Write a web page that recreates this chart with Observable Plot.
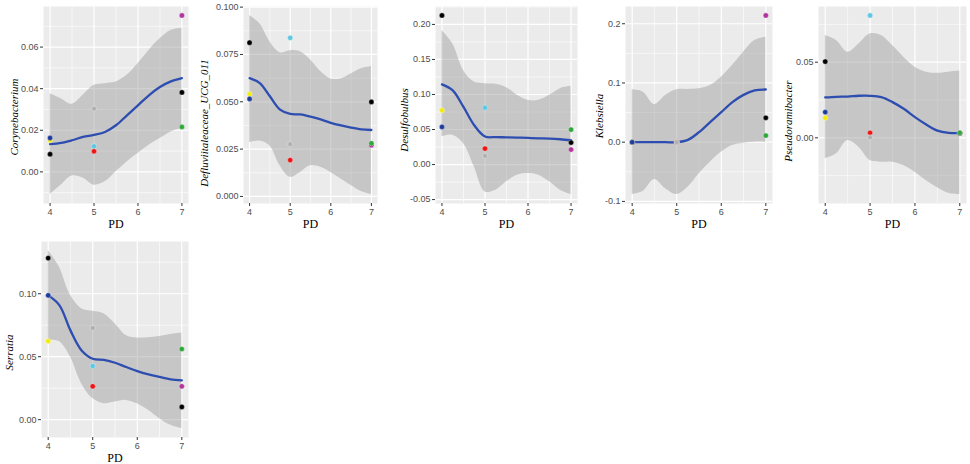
<!DOCTYPE html>
<html><head><meta charset="utf-8">
<script src="https://cdn.jsdelivr.net/npm/d3@7"></script>
<script src="https://cdn.jsdelivr.net/npm/@observablehq/plot@0.6"></script>
<style>
body{margin:0;background:#fff;}
#wrap{position:relative;width:970px;height:464px;overflow:hidden;}
.panel{position:absolute;}
</style></head><body><div id="wrap"></div>
<script>
// Samples (draw order) and their PD stage
const pd = [4, 4, 4, 5, 5, 5, 7, 7, 7];
const sampleColors = ["#000000", "#F3EC10", "#1E3C9C", "#5EC7E2", "#EE1414", "#B2B2B2", "#B2359E", "#000000", "#2FA83A"];

// Smooth (loess) evaluation grid
const smoothX = [4, 4.25, 4.5, 4.75, 5, 5.25, 5.5, 5.75, 6, 6.25, 6.5, 6.75, 7];

const xTicks = [4, 5, 6, 7];
const xTickLabels = ["4", "5", "6", "7"];
const xMinor = [4.5, 5.5, 6.5];

// Corynebacterium
const coryPts = [0.0085, 0.0152, 0.0163, 0.0123, 0.0099, 0.0304, 0.0752, 0.0382, 0.0216];
const coryFit = [0.0133, 0.0139, 0.0152, 0.0168, 0.0178, 0.0192, 0.0224, 0.0272, 0.0320, 0.0368, 0.0408, 0.0435, 0.0451];
const coryLo = [-0.0109, -0.0064, -0.0020, -0.0030, -0.0064, -0.0048, 0.0000, 0.0048, 0.0088, 0.0128, 0.0160, 0.0192, 0.0208];
const coryHi = [0.0376, 0.0352, 0.0325, 0.0368, 0.0416, 0.0424, 0.0432, 0.0464, 0.0520, 0.0584, 0.0640, 0.0680, 0.0691];
const coryTicks = [0, 0.02, 0.04, 0.06];
const coryTickLabels = ["0.00", "0.02", "0.04", "0.06"];
const coryMinor = [-0.01, 0.01, 0.03, 0.05, 0.07];

// Defluviitaleaceae_UCG_011
const deflPts = [0.0812, 0.0541, 0.0515, 0.0838, 0.0192, 0.0276, 0.0271, 0.0499, 0.0281];
const deflFit = [0.0625, 0.0599, 0.0529, 0.0459, 0.0436, 0.0433, 0.0421, 0.0407, 0.0389, 0.0375, 0.0363, 0.0354, 0.0351];
const deflLo = [0.0284, 0.0293, 0.0267, 0.0162, 0.0101, 0.0127, 0.0162, 0.0154, 0.0127, 0.0092, 0.0058, 0.0026, 0.0010];
const deflHi = [0.0956, 0.0913, 0.0817, 0.0759, 0.0770, 0.0764, 0.0721, 0.0660, 0.0621, 0.0621, 0.0647, 0.0674, 0.0686];
const deflTicks = [0, 0.025, 0.05, 0.075, 0.1];
const deflTickLabels = ["0.000", "0.025", "0.050", "0.075", "0.100"];
const deflMinor = [0.0125, 0.0375, 0.0625, 0.0875];

// Desulfobulbus
const desuPts = [0.2128, 0.0774, 0.0537, 0.0812, 0.0228, 0.0124, 0.0214, 0.0314, 0.0499];
const desuFit = [0.1145, 0.1059, 0.0822, 0.0561, 0.0400, 0.0392, 0.0389, 0.0385, 0.0380, 0.0375, 0.0371, 0.0361, 0.0347];
const desuLo = [0.0394, 0.0418, 0.0299, -0.0033, -0.0390, -0.0366, -0.0247, -0.0152, -0.0128, -0.0152, -0.0247, -0.0366, -0.0428];
const desuHi = [0.1914, 0.1724, 0.1344, 0.1178, 0.1154, 0.1145, 0.1097, 0.0988, 0.0917, 0.0917, 0.0988, 0.1083, 0.1116];
const desuTicks = [-0.05, 0, 0.05, 0.1, 0.15, 0.2];
const desuTickLabels = ["-0.05", "0.00", "0.05", "0.10", "0.15", "0.20"];
const desuMinor = [-0.025, 0.025, 0.075, 0.125, 0.175, 0.225];

// Klebsiella
const klebPts = [0, 0, 0, 0, 0, 0, 0.2140, 0.0411, 0.0113];
const klebFit = [0, 0, 0, 0, 0, 0.0039, 0.0169, 0.0338, 0.0507, 0.0676, 0.0799, 0.0873, 0.0890];
const klebLo = [-0.0884, -0.0828, -0.0631, -0.0788, -0.0884, -0.0760, -0.0535, -0.0338, -0.0169, -0.0056, -0.0017, 0, 0];
const klebHi = [0.0884, 0.0845, 0.0636, 0.0788, 0.0884, 0.0890, 0.0901, 0.0957, 0.1098, 0.1295, 0.1520, 0.1717, 0.1773];
const klebTicks = [-0.1, 0, 0.1, 0.2];
const klebTickLabels = ["-0.1", "0.0", "0.1", "0.2"];
const klebMinor = [-0.05, 0.05, 0.15];

// Pseudoramibacter
const pseuPts = [0.0504, 0.0132, 0.0170, 0.0809, 0.0033, 0.0003, 0.0031, 0.0032, 0.0033];
const pseuFit = [0.0267, 0.0271, 0.0273, 0.0278, 0.0278, 0.0269, 0.0236, 0.0192, 0.0137, 0.0088, 0.0048, 0.0033, 0.0031];
const pseuLo = [-0.0139, -0.0106, -0.0018, -0.0062, -0.0150, -0.0161, -0.0161, -0.0183, -0.0227, -0.0282, -0.0330, -0.0366, -0.0375];
const pseuHi = [0.0676, 0.0643, 0.0566, 0.0621, 0.0687, 0.0676, 0.0610, 0.0533, 0.0467, 0.0434, 0.0427, 0.0434, 0.0441];
const pseuTicks = [0, 0.05];
const pseuTickLabels = ["0.00", "0.05"];
const pseuMinor = [-0.025, 0.025, 0.075];

// Serratia
const serrPts = [0.1283, 0.0624, 0.0987, 0.0426, 0.0265, 0.0728, 0.0265, 0.0101, 0.0561];
const serrFit = [0.0987, 0.0910, 0.0709, 0.0550, 0.0484, 0.0474, 0.0452, 0.0418, 0.0386, 0.0360, 0.0339, 0.0320, 0.0312];
const serrLo = [0.0630, 0.0620, 0.0497, 0.0286, 0.0167, 0.0127, 0.0140, 0.0153, 0.0127, 0.0074, 0.0008, -0.0045, -0.0071];
const serrHi = [0.1344, 0.1212, 0.0987, 0.0881, 0.0860, 0.0841, 0.0762, 0.0669, 0.0648, 0.0651, 0.0661, 0.0677, 0.0688];
const serrTicks = [0, 0.05, 0.1];
const serrTickLabels = ["0.00", "0.05", "0.10"];
const serrMinor = [0.025, 0.075, 0.125];

const panels = [
  {name: "Corynebacterium", pts: coryPts, fit: coryFit, lo: coryLo, hi: coryHi, ticks: coryTicks, labels: coryTickLabels, minor: coryMinor,
   left: 0, top: 0, width: 195, height: 230, mt: 6, mb: 27, ml: 43, mr: 7, ldx: -29, ldy: 12},
  {name: "Defluviitaleaceae_UCG_011", pts: deflPts, fit: deflFit, lo: deflLo, hi: deflHi, ticks: deflTicks, labels: deflTickLabels, minor: deflMinor,
   left: 195, top: 0, width: 195, height: 230, mt: 6, mb: 27, ml: 48, mr: 13, ldx: -39, ldy: 18},
  {name: "Desulfobulbus", pts: desuPts, fit: desuFit, lo: desuLo, hi: desuHi, ticks: desuTicks, labels: desuTickLabels, minor: desuMinor,
   left: 390, top: 0, width: 195, height: 230, mt: 6, mb: 27, ml: 45, mr: 8, ldx: -31, ldy: 15},
  {name: "Klebsiella", pts: klebPts, fit: klebFit, lo: klebLo, hi: klebHi, ticks: klebTicks, labels: klebTickLabels, minor: klebMinor,
   left: 585, top: 0, width: 190, height: 230, mt: 6, mb: 27, ml: 40, mr: 3, ldx: -26, ldy: 11},
  {name: "Pseudoramibacter", pts: pseuPts, fit: pseuFit, lo: pseuLo, hi: pseuHi, ticks: pseuTicks, labels: pseuTickLabels, minor: pseuMinor,
   left: 775, top: 0, width: 195, height: 230, mt: 6, mb: 27, ml: 43, mr: 4, ldx: -30, ldy: 16},
  {name: "Serratia", pts: serrPts, fit: serrFit, lo: serrLo, hi: serrHi, ticks: serrTicks, labels: serrTickLabels, minor: serrMinor,
   left: 0, top: 234, width: 195, height: 230, mt: 7, mb: 27, ml: 41, mr: 7, ldx: -32, ldy: 13}
];

const wrap = document.getElementById("wrap");
for (const p of panels) {
  const points = pd.map((x, i) => ({x, y: p.pts[i], c: sampleColors[i]}));
  const band = smoothX.map((x, i) => ({x, fit: p.fit[i], lo: p.lo[i], hi: p.hi[i]}));
  const ext = d3.extent([...p.pts, ...p.lo, ...p.hi]);
  const pad = (ext[1] - ext[0]) * 0.05;
  const yLab = new Map(p.ticks.map((t, i) => [t, p.labels[i]]));
  const xLab = new Map(xTicks.map((t, i) => [t, xTickLabels[i]]));
  const chart = Plot.plot({
    width: p.width, height: p.height,
    marginTop: p.mt, marginBottom: p.mb, marginLeft: p.ml, marginRight: p.mr,
    style: {fontFamily: "'Liberation Sans', Arial, sans-serif", fontSize: "9px", background: "transparent", overflow: "visible"},
    x: {domain: [3.85, 7.15]},
    y: {domain: [ext[0] - pad, ext[1] + pad]},
    color: {type: "identity"},
    marks: [
      Plot.frame({fill: "#EBEBEB", stroke: null}),
      Plot.gridY(p.minor, {stroke: "#fff", strokeOpacity: 1, strokeWidth: 0.6}),
      Plot.gridX(xMinor, {stroke: "#fff", strokeOpacity: 1, strokeWidth: 0.6}),
      Plot.gridY(p.ticks, {stroke: "#fff", strokeOpacity: 1, strokeWidth: 1.2}),
      Plot.gridX(xTicks, {stroke: "#fff", strokeOpacity: 1, strokeWidth: 1.2}),
      Plot.areaY(band, {x: "x", y1: "lo", y2: "hi", fill: "#999999", fillOpacity: 0.45, curve: "catmull-rom"}),
      Plot.line(band, {x: "x", y: "fit", stroke: "#2D4DB0", strokeWidth: 2.3, curve: "catmull-rom"}),
      Plot.dot(points, {x: "x", y: "y", fill: "c", r: 2.6, stroke: "#fff", strokeWidth: 0.4, strokeOpacity: 0.8}),
      Plot.axisX(xTicks, {tickSize: 3, tickPadding: 2, stroke: "#333", fill: "#4D4D4D", tickFormat: d => xLab.get(d), label: null, fontSize: 9}),
      Plot.axisY(p.ticks, {tickSize: 3, tickPadding: 2, stroke: "#333", fill: "#4D4D4D", tickFormat: d => yLab.get(d), label: null, fontSize: 9}),
      Plot.text([p.name], {text: d => d, frameAnchor: "left", rotate: -90, dx: p.ldx, dy: p.ldy, textAnchor: "middle", lineAnchor: "middle",
        fontFamily: "'Liberation Serif', 'Times New Roman', serif", fontStyle: "italic", fontSize: 11, fill: "#000"}),
      Plot.text(["PD"], {text: d => d, frameAnchor: "bottom", dy: 21, textAnchor: "middle", lineAnchor: "middle",
        fontFamily: "'Liberation Serif', 'Times New Roman', serif", fontSize: 12, fill: "#000"})
    ]
  });
  chart.classList.add("panel");
  chart.style.left = p.left + "px";
  chart.style.top = p.top + "px";
  wrap.appendChild(chart);
}
</script>
</body></html>
